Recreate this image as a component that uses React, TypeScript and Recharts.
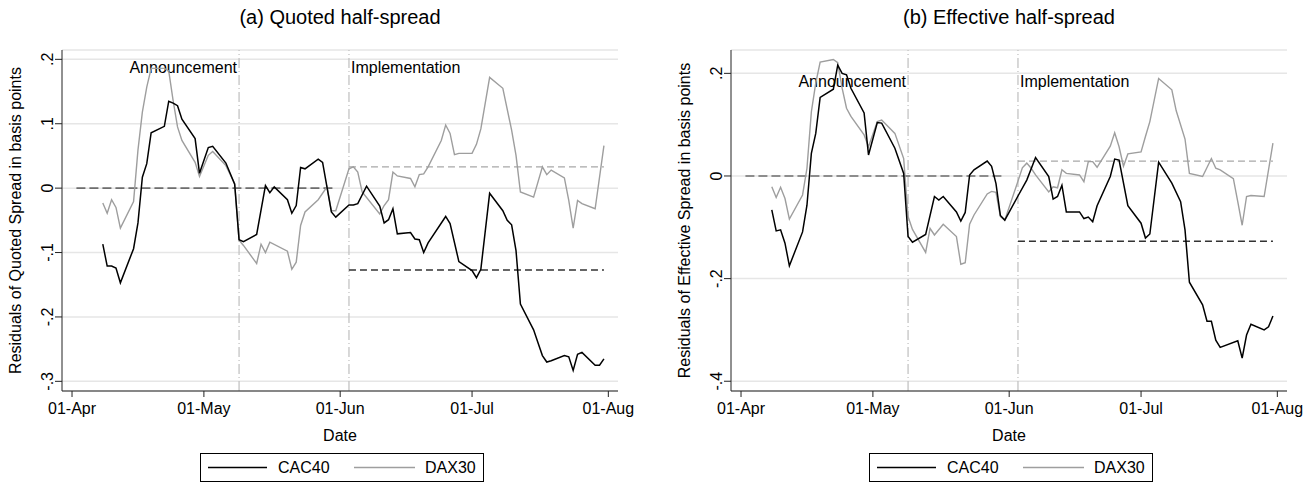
import React from "react";
import { CartesianGrid, Line, LineChart, ReferenceLine, XAxis, YAxis } from "recharts";

const FONT = "'Liberation Sans', Arial, Helvetica, sans-serif";

// x = days since 01-Apr
const monthTicks = [0, 30, 61, 91, 122];
const monthLabels = ["01-Apr", "01-May", "01-Jun", "01-Jul", "01-Aug"];
const announcementDay = 38;
const implementationDay = 63;
const preWindow = [1, 60];
const postWindow = [63, 121];

const quotedTicks = [-0.3, -0.2, -0.1, 0, 0.1, 0.2];
const effectiveTicks = [-0.4, -0.2, 0, 0.2];

// [day, residual]
const quotedCAC: [number, number][] = [
  [7, -0.087], [8, -0.121], [9, -0.121], [10, -0.124], [11, -0.147], [14, -0.094], [15, -0.054],
  [16, 0.017], [17, 0.038], [18, 0.086], [21, 0.096], [22, 0.135], [23, 0.132], [24, 0.128],
  [25, 0.107], [28, 0.077], [29, 0.023], [31, 0.063], [32, 0.065], [35, 0.039], [37, 0.006],
  [38, -0.08], [39, -0.083], [42, -0.072], [44, 0.004], [45, -0.007], [46, 0.002], [49, -0.018],
  [50, -0.039], [51, -0.027], [52, 0.032], [53, 0.03], [56, 0.045], [57, 0.04], [59, -0.037],
  [60, -0.045], [63, -0.026], [64, -0.026], [65, -0.024], [67, 0.003], [70, -0.028], [71, -0.054],
  [72, -0.049], [73, -0.032], [74, -0.071], [77, -0.069], [78, -0.079], [79, -0.08], [80, -0.1],
  [81, -0.085], [85, -0.044], [86, -0.055], [88, -0.114], [91, -0.128], [92, -0.139], [93, -0.126],
  [95, -0.008], [98, -0.035], [99, -0.05], [100, -0.057], [101, -0.097], [102, -0.18], [105, -0.22],
  [106, -0.24], [107, -0.26], [108, -0.27], [109, -0.268], [112, -0.26], [113, -0.262], [114, -0.283],
  [115, -0.258], [116, -0.255], [119, -0.275], [120, -0.275], [121, -0.265],
];

const quotedDAX: [number, number][] = [
  [7, -0.023], [8, -0.039], [9, -0.018], [10, -0.03], [11, -0.062], [14, -0.021], [15, 0.059],
  [16, 0.118], [17, 0.157], [18, 0.186], [21, 0.186], [22, 0.182], [23, 0.136], [24, 0.095],
  [25, 0.074], [28, 0.04], [29, 0.018], [31, 0.051], [32, 0.057], [35, 0.035], [37, 0.007],
  [38, -0.081], [39, -0.089], [42, -0.117], [43, -0.087], [44, -0.1], [45, -0.084], [49, -0.098],
  [50, -0.126], [51, -0.115], [52, -0.058], [53, -0.037], [56, -0.018], [58, 0.002], [59, -0.035],
  [60, -0.035], [63, 0.03], [64, 0.033], [65, 0.025], [66, -0.006], [70, -0.04], [71, -0.027],
  [72, -0.018], [73, 0.025], [74, 0.019], [77, 0.015], [78, 0.002], [79, 0.021], [80, 0.022],
  [81, 0.033], [84, 0.074], [85, 0.098], [86, 0.085], [87, 0.052], [88, 0.054], [91, 0.054],
  [92, 0.068], [93, 0.092], [95, 0.172], [98, 0.155], [100, 0.09], [101, 0.051], [102, -0.006],
  [105, -0.014], [107, 0.033], [108, 0.021], [109, 0.028], [112, 0.016], [113, -0.019], [114, -0.062],
  [115, -0.019], [116, -0.024], [119, -0.032], [121, 0.066],
];

const effectiveCAC: [number, number][] = [
  [7, -0.066], [8, -0.107], [9, -0.105], [10, -0.131], [11, -0.175], [14, -0.109], [15, -0.057],
  [16, 0.044], [17, 0.083], [18, 0.153], [21, 0.169], [22, 0.216], [23, 0.2], [24, 0.197],
  [25, 0.171], [28, 0.123], [29, 0.041], [31, 0.104], [32, 0.103], [35, 0.054], [37, 0.005],
  [38, -0.118], [39, -0.129], [42, -0.114], [44, -0.04], [45, -0.047], [46, -0.04], [49, -0.07],
  [50, -0.088], [51, -0.071], [52, 0.002], [53, 0.012], [56, 0.029], [57, 0.019], [58, -0.015],
  [59, -0.077], [60, -0.086], [63, -0.039], [65, -0.008], [67, 0.036], [70, -0.001], [71, -0.045],
  [72, -0.04], [73, -0.018], [74, -0.07], [77, -0.07], [78, -0.083], [79, -0.08], [80, -0.089],
  [81, -0.058], [84, -0.001], [85, 0.033], [86, 0.031], [88, -0.058], [91, -0.092], [92, -0.121],
  [93, -0.113], [95, 0.027], [98, -0.014], [100, -0.05], [101, -0.105], [102, -0.207], [105, -0.251],
  [106, -0.283], [107, -0.283], [108, -0.32], [109, -0.334], [113, -0.321], [114, -0.355],
  [115, -0.31], [116, -0.289], [119, -0.3], [120, -0.294], [121, -0.273],
];

const effectiveDAX: [number, number][] = [
  [7, -0.021], [8, -0.042], [9, -0.022], [10, -0.044], [11, -0.084], [14, -0.037], [15, 0.015],
  [16, 0.125], [17, 0.181], [18, 0.222], [21, 0.227], [22, 0.221], [23, 0.171], [24, 0.132],
  [25, 0.116], [28, 0.08], [29, 0.057], [31, 0.106], [32, 0.109], [35, 0.083], [37, 0.034],
  [38, -0.079], [39, -0.104], [42, -0.149], [43, -0.102], [44, -0.115], [46, -0.094], [49, -0.118],
  [50, -0.172], [51, -0.169], [52, -0.094], [53, -0.076], [56, -0.035], [57, -0.03], [58, -0.032],
  [59, -0.079], [60, -0.086], [63, -0.01], [64, 0.016], [65, 0.025], [66, 0.015], [67, 0.002],
  [70, -0.031], [71, -0.021], [72, -0.023], [73, 0.012], [74, 0.005], [77, 0.002], [78, -0.011],
  [79, 0.028], [80, 0.028], [81, 0.017], [84, 0.058], [85, 0.084], [86, 0.057], [87, 0.019],
  [88, 0.043], [91, 0.047], [92, 0.077], [93, 0.106], [95, 0.19], [98, 0.168], [99, 0.127],
  [101, 0.072], [102, 0.005], [105, -0.001], [107, 0.034], [108, 0.015], [109, 0.012], [112, -0.005],
  [113, -0.05], [114, -0.096], [115, -0.04], [116, -0.038], [119, -0.04], [121, 0.064],
];

// post-implementation means: [CAC40, DAX30]
const quotedPostMeans = [-0.127, 0.033];
const effectivePostMeans = [-0.127, 0.029];

const toRows = (pts: [number, number][]) => pts.map(([day, value]) => ({ day, value }));

// Stata style: .2, -.1, 0
const fmtY = (v: number) => {
  if (Math.abs(v) < 1e-9) return "0";
  const s = Math.abs(v).toFixed(1).replace(/^0/, "");
  return (v < 0 ? "-" : "") + s;
};

function YTick({ x, y, payload }: any) {
  return (
    <g transform={`translate(${x - 6},${y})`}>
      <text transform="rotate(-90)" textAnchor="middle" dy="0.36em" fontSize={16} fill="#000" fontFamily={FONT}>
        {fmtY(payload.value)}
      </text>
    </g>
  );
}

const eventNote = (text: string, side: "left" | "right", dy: number) => (p: any) => {
  const vb = p.viewBox;
  const x = side === "left" ? vb.x - 2 : vb.x + 2;
  return (
    <text x={x} y={vb.y + dy} textAnchor={side === "left" ? "end" : "start"} fontSize={16} fill="#000" fontFamily={FONT}>
      {text}
    </text>
  );
};

type PanelProps = {
  left: number;
  title: string;
  yLabel: string;
  yTicks: number[];
  yDomain: [number, number];
  cac: [number, number][];
  dax: [number, number][];
  postMeans: number[];
  noteDy: number;
};

function Panel({ left, title, yLabel, yTicks, yDomain, cac, dax, postMeans, noteDy }: PanelProps) {
  return (
    <div style={{ position: "absolute", left, top: 0, width: 657, height: 484 }}>
      <div style={{ position: "absolute", left: 62, width: 556, top: 6, textAlign: "center", fontSize: 20, fontFamily: FONT, color: "#000" }}>
        {title}
      </div>
      <LineChart width={657} height={484} margin={{ top: 50, right: 39, bottom: 63, left: 0 }}>
        <CartesianGrid vertical={false} stroke="#e6e6e6" strokeWidth={1.5} />
        <XAxis
          type="number"
          dataKey="day"
          domain={[-2.28, 124.2]}
          ticks={monthTicks}
          tickFormatter={(v) => monthLabels[monthTicks.indexOf(v)]}
          height={30}
          stroke="#222"
          tickSize={6}
          tickMargin={6}
          tick={{ fontSize: 16, fill: "#000", fontFamily: FONT }}
          label={{
            content: (p: any) => (
              <text x={p.viewBox.x + p.viewBox.width / 2} y={p.viewBox.y + 50} textAnchor="middle" fontSize={16} fill="#000" fontFamily={FONT}>
                Date
              </text>
            ),
          }}
        />
        <YAxis
          type="number"
          domain={yDomain}
          ticks={yTicks}
          width={62}
          stroke="#222"
          tickSize={7}
          tickMargin={2}
          tick={<YTick />}
          label={{
            content: (p: any) => {
              const cx = p.viewBox.x + 15;
              const cy = p.viewBox.y + p.viewBox.height / 2;
              return (
                <text x={cx} y={cy} transform={`rotate(-90 ${cx} ${cy})`} textAnchor="middle" dy="0.36em" fontSize={16} fill="#000" fontFamily={FONT}>
                  {yLabel}
                </text>
              );
            },
          }}
        />
        <ReferenceLine x={announcementDay} stroke="#c4c4c4" strokeWidth={1.3} strokeDasharray="10 3 1 3" label={{ content: eventNote("Announcement", "left", noteDy) }} />
        <ReferenceLine x={implementationDay} stroke="#c4c4c4" strokeWidth={1.3} strokeDasharray="10 3 1 3" label={{ content: eventNote("Implementation", "right", noteDy) }} />
        <ReferenceLine segment={[{ x: preWindow[0], y: 0 }, { x: preWindow[1], y: 0 }]} stroke="#6e6e6e" strokeWidth={1.6} strokeDasharray="9 4" />
        <ReferenceLine segment={[{ x: postWindow[0], y: postMeans[1] }, { x: postWindow[1], y: postMeans[1] }]} stroke="#a8a8a8" strokeWidth={1.4} strokeDasharray="7 4" />
        <ReferenceLine segment={[{ x: postWindow[0], y: postMeans[0] }, { x: postWindow[1], y: postMeans[0] }]} stroke="#333" strokeWidth={1.5} strokeDasharray="7 4" />
        <Line data={toRows(dax)} dataKey="value" name="DAX30" stroke="#9e9e9e" strokeWidth={1.4} dot={false} isAnimationActive={false} />
        <Line data={toRows(cac)} dataKey="value" name="CAC40" stroke="#000" strokeWidth={1.5} dot={false} isAnimationActive={false} />
      </LineChart>
      <div
        style={{
          position: "absolute",
          left: 200,
          top: 453,
          width: 284,
          height: 29,
          boxSizing: "border-box",
          border: "1px solid #000",
          fontFamily: FONT,
          fontSize: 16,
          color: "#000",
        }}
      >
        <svg width={282} height={27} style={{ position: "absolute", left: 0, top: 0 }}>
          <line x1={7} x2={66} y1={13.5} y2={13.5} stroke="#000" strokeWidth={1.5} />
          <line x1={153} x2={214} y1={13.5} y2={13.5} stroke="#9e9e9e" strokeWidth={1.4} />
          <text x={77} y={19} fontSize={16} fontFamily={FONT} fill="#000">CAC40</text>
          <text x={224} y={19} fontSize={16} fontFamily={FONT} fill="#000">DAX30</text>
        </svg>
      </div>
    </div>
  );
}

export default function App() {
  return (
    <div style={{ position: "absolute", left: 0, top: 0, width: 1314, height: 484, background: "#fff" }}>
      <Panel
        left={0}
        title="(a) Quoted half-spread"
        yLabel="Residuals of Quoted Spread in basis points"
        yTicks={quotedTicks}
        yDomain={[-0.315, 0.2145]}
        cac={quotedCAC}
        dax={quotedDAX}
        postMeans={quotedPostMeans}
        noteDy={23}
      />
      <Panel
        left={669}
        title="(b) Effective half-spread"
        yLabel="Residuals of Effective Spread in basis points"
        yTicks={effectiveTicks}
        yDomain={[-0.419, 0.2455]}
        cac={effectiveCAC}
        dax={effectiveDAX}
        postMeans={effectivePostMeans}
        noteDy={37}
      />
    </div>
  );
}
